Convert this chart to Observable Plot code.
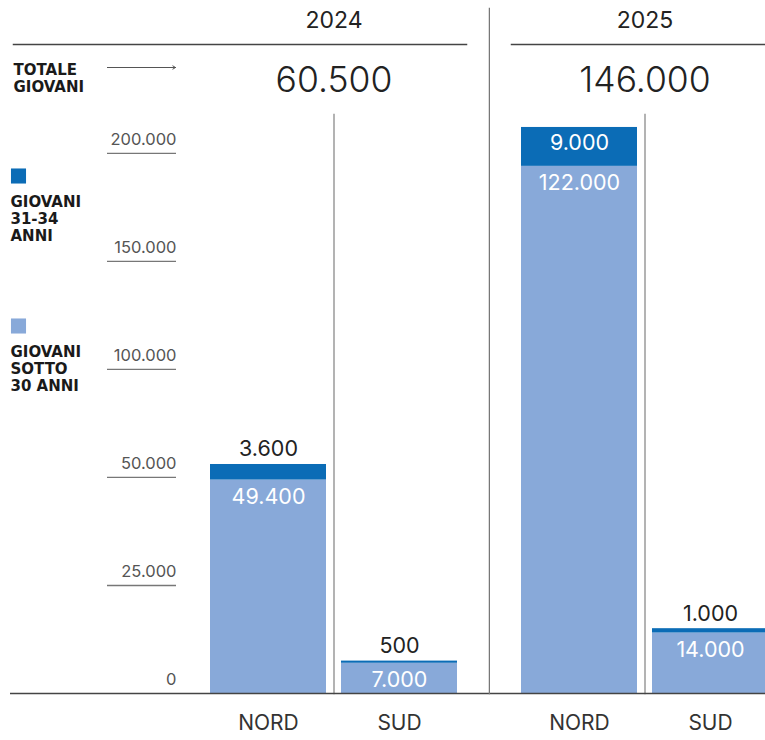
<!DOCTYPE html>
<html><head><meta charset="utf-8">
<script src="https://cdn.jsdelivr.net/npm/d3@7"></script>
<script src="https://cdn.jsdelivr.net/npm/@observablehq/plot@0.6"></script>
<style>
html,body{margin:0;padding:0;background:#fff;overflow:hidden;}
#chart{position:relative;width:765px;height:740px;overflow:hidden;background:#fff;}
#chart svg{position:absolute;top:0;max-width:none;}
</style></head><body><div id="chart"></div>
<script>
// ---- data ----
const years = ["2024", "2025"];
const regions = ["NORD", "SUD"];
const seriesNames = ["Giovani sotto 30 anni", "Giovani 31-34 anni"];
const legendLabels = ["GIOVANI\nSOTTO\n30 ANNI", "GIOVANI\n31-34\nANNI"];
const totalLabel = "TOTALE\nGIOVANI";
const totals = [60500, 146000];
const under30_2024 = [49400, 7000];
const over30_2024 = [3600, 500];
const under30_2025 = [122000, 14000];
const over30_2025 = [9000, 1000];
const yTicks = [0, 25000, 50000, 75000, 100000, 125000];
const yTickLabels = ["0", "25.000", "50.000", "100.000", "150.000", "200.000"];

// ---- style ----
const LIGHT = "#88a9d9", DARK = "#0b6cb6";
const FONT = "Inter, 'Open Sans', sans-serif";
const BOLD = "'DejaVu Sans', sans-serif";
const fmt = d3.formatLocale({decimal: ",", thousands: ".", grouping: [3], currency: ["€", ""]}).format(",");
const H = 740, MT = 114, MB = 47, PW = 249, YMAX = 134000;
const legendDy = [211.5, 61.5];

const under = [under30_2024, under30_2025];
const over = [over30_2024, over30_2025];

function panelMarks(i, ruleInsetLeft) {
  const wide = regions.map((r, j) => ({region: r, under: under[i][j], over: over[i][j]}));
  const long = regions.flatMap((r, j) => [
    {region: r, series: seriesNames[0], value: under[i][j]},
    {region: r, series: seriesNames[1], value: over[i][j]}
  ]);
  return [
    Plot.barY(long, {x: "region", y: "value", fill: "series"}),
    Plot.frame({anchor: "left", dx: PW / 2, stroke: "#8a8a8a", strokeWidth: 1.3}),
    Plot.text(wide, {x: "region", y: "under", text: d => fmt(d.under), dy: 17, fill: "white", fontSize: 21.5}),
    Plot.text(wide.filter(d => d.over >= 5000), {x: "region", y: d => d.under + d.over, text: d => fmt(d.over), dy: 16, fill: "white", fontSize: 21.5}),
    Plot.text(wide.filter(d => d.over < 5000), {x: "region", y: d => d.under + d.over, text: d => fmt(d.over), dy: -15, fill: "#222", fontSize: 21.5}),
    Plot.text(regions, {x: d => d, frameAnchor: "bottom", dy: 36, fontSize: 21, fill: "#333"}),
    Plot.text([years[i]], {frameAnchor: "top", dy: -103, fontSize: 23, fill: "#222"}),
    Plot.frame({anchor: "top", dy: -70, insetLeft: ruleInsetLeft, insetRight: i === 0 ? -8 : 0, stroke: "#444", strokeWidth: 1.5}),
    Plot.text([totals[i]], {frameAnchor: "top", dy: -48, text: d => fmt(d), fontSize: 35.5, fontWeight: 300, fill: "#222"})
  ];
}

const common = {
  height: H, marginTop: MT, marginBottom: MB,
  x: {domain: regions, paddingInner: 0.1136, paddingOuter: 0, axis: null},
  y: {domain: [0, YMAX], axis: null},
  color: {domain: seriesNames, range: [LIGHT, DARK]},
};

const chevron = {draw(ctx, size) { const r = Math.sqrt(size / Math.PI); ctx.moveTo(-r, -r * 0.6); ctx.lineTo(0, 0); ctx.lineTo(-r, r * 0.6); }};

const left = Plot.plot({
  ...common,
  width: 490, marginLeft: 209, marginRight: 32,
  style: {fontFamily: FONT, left: "0px", position: "absolute", maxWidth: "none"},
  marks: [
    Plot.ruleY(yTicks.filter(d => d > 0), {insetLeft: -102, insetRight: 282, stroke: "#777", strokeWidth: 1.3}),
    Plot.text(yTicks, {y: d => d, text: (d, k) => yTickLabels[k], frameAnchor: "left", dx: -33, dy: -14, textAnchor: "end", fontSize: 16.5, fill: "#555"}),
    ...panelMarks(0, -196),
    Plot.ruleY([0], {insetLeft: -199, insetRight: -32, stroke: "#444", strokeWidth: 1.5}),
    Plot.frame({anchor: "right", dx: 31, insetTop: -106, stroke: "#777", strokeWidth: 1.5}),
    Plot.text([totalLabel], {frameAnchor: "top-left", dx: -196, dy: -51, textAnchor: "start", lineAnchor: "top", fontFamily: BOLD, fontWeight: 700, fontSize: 15, lineHeight: 1.12, fill: "#1a1a1a"}),
    Plot.frame({anchor: "top", dy: -47, insetLeft: -102, insetRight: 283, stroke: "#555", strokeWidth: 1}),
    Plot.dot([0], {frameAnchor: "top-left", dx: -34, dy: -47, symbol: chevron, r: 3, stroke: "#555", fill: "none", strokeWidth: 1}),
    ...[1, 0].flatMap(k => [
      Plot.dot([seriesNames[k]], {frameAnchor: "top-left", dx: -191, dy: legendDy[k], symbol: "square", r: 8.5, fill: d => d}),
      Plot.text([legendLabels[k]], {frameAnchor: "top-left", dx: -199, dy: legendDy[k] + 19.5, textAnchor: "start", lineAnchor: "top", fontFamily: BOLD, fontWeight: 700, fontSize: 15, lineHeight: 1.12, fill: "#1a1a1a"})
    ])
  ]
});

const right = Plot.plot({
  ...common,
  width: 279, marginLeft: 30, marginRight: 0,
  style: {fontFamily: FONT, left: "490px", position: "absolute", maxWidth: "none"},
  marks: [
    ...panelMarks(1, -9),
    Plot.ruleY([0], {insetLeft: -30, stroke: "#444", strokeWidth: 1.5})
  ]
});

const chart = document.getElementById("chart");
chart.append(left, right);
</script></body></html>
